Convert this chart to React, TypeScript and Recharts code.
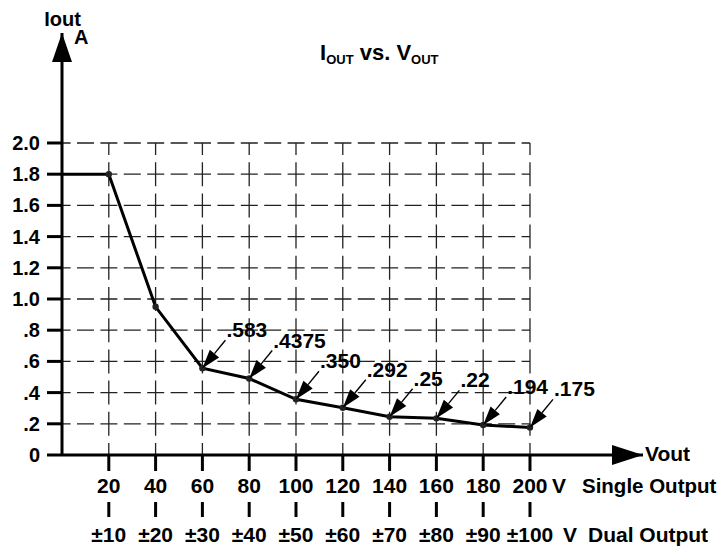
import React from "react";
import { LineChart, Line, XAxis, YAxis, ReferenceLine, ReferenceDot } from "recharts";

// values
const VOUT = [0, 20, 40, 60, 80, 100, 120, 140, 160, 180, 200];
const IOUT = [1.8, 1.8, 0.95, 0.556, 0.49, 0.357, 0.303, 0.245, 0.235, 0.192, 0.177];
const NOTES = ["", "", "", ".583", ".4375", ".350", ".292", ".25", ".22", ".194", ".175"];

const X_TICKS = [20, 40, 60, 80, 100, 120, 140, 160, 180, 200];
const DUAL_LABELS = ["±10", "±20", "±30", "±40", "±50", "±60", "±70", "±80", "±90", "±100"];
const Y_TICKS = [0, 0.2, 0.4, 0.6, 0.8, 1.0, 1.2, 1.4, 1.6, 1.8, 2.0];
const Y_TICK_LABELS = ["0", ".2", ".4", ".6", ".8", "1.0", "1.2", "1.4", "1.6", "1.8", "2.0"];

// axis arrows run past the grid
const X_MAX = 248.3;
const Y_MAX = 2.705;

const data = VOUT.map((v, i) => ({ v, i: IOUT[i], note: NOTES[i] }));

const FONT = "'Liberation Sans', Arial, Helvetica, sans-serif";
const GRID = "#222";
const W = 725;
const H = 548;

const XTick = (props: any) => {
  const { x, y, payload } = props;
  const idx = X_TICKS.indexOf(payload.value);
  const last = idx === X_TICKS.length - 1;
  const txt = { fontFamily: FONT, fontWeight: 700, fontSize: 21, fill: "#000" };
  return (
    <g>
      <text x={x} y={y + 22} textAnchor="middle" {...txt}>{payload.value}</text>
      <line x1={x} x2={x} y1={y + 31} y2={y + 46} stroke="#000" strokeWidth={3} />
      <text x={x} y={y + 71} textAnchor="middle" {...txt}>{DUAL_LABELS[idx]}</text>
      {last && (
        <>
          <text x={x + 22} y={y + 22} {...txt}>V</text>
          <text x={x + 52} y={y + 22} {...txt} fontSize={20.5}>Single Output</text>
          <text x={x + 33} y={y + 71} {...txt}>V</text>
          <text x={x + 58} y={y + 71} {...txt}>Dual Output</text>
        </>
      )}
    </g>
  );
};

const renderDot = (p: any) => {
  const { cx, cy, index } = p;
  if (index === 0) return <g key={`dot-${index}`} />;
  const note = NOTES[index];
  let arrow = null;
  if (note) {
    const tx = cx + 23;
    const ty = cy - 28;
    const dx = cx - tx;
    const dy = cy - ty;
    const len = Math.sqrt(dx * dx + dy * dy);
    const ux = dx / len;
    const uy = dy / len;
    const hl = 19;
    const hw = 6;
    const bx = cx - ux * hl;
    const by = cy - uy * hl;
    const pts = `${cx},${cy} ${bx - uy * hw},${by + ux * hw} ${bx + uy * hw},${by - ux * hw}`;
    arrow = (
      <>
        <line x1={tx} y1={ty} x2={bx} y2={by} stroke="#000" strokeWidth={1.4} />
        <polygon points={pts} fill="#000" />
        <text x={cx + 24} y={cy - 31} fontFamily={FONT} fontWeight={700} fontSize={21} fill="#000">
          {note}
        </text>
      </>
    );
  }
  return (
    <g key={`dot-${index}`}>
      <circle cx={cx} cy={cy} r={3.2} fill="#222" />
      {arrow}
    </g>
  );
};

const upArrow = (p: any) => (
  <polygon points={`${p.cx},${p.cy} ${p.cx - 10},${p.cy + 29} ${p.cx + 10},${p.cy + 29}`} fill="#000" />
);
const rightArrow = (p: any) => (
  <polygon points={`${p.cx},${p.cy} ${p.cx - 31},${p.cy - 10} ${p.cx - 31},${p.cy + 10}`} fill="#000" />
);

export default function App() {
  return (
    <div style={{ position: "relative", width: W, height: H }}>
      <style>{`body{margin:0}.recharts-surface{overflow:visible}`}</style>
      <LineChart width={W} height={H} data={data} margin={{ top: 33, right: 82, bottom: 0, left: 8 }}>
        <XAxis
          dataKey="v"
          type="number"
          domain={[0, X_MAX]}
          ticks={X_TICKS}
          tick={<XTick />}
          tickSize={16}
          tickMargin={0}
          height={93}
          axisLine={{ stroke: "#000", strokeWidth: 3 }}
          tickLine={{ stroke: "#000", strokeWidth: 3 }}
          interval={0}
        />
        <YAxis
          type="number"
          domain={[0, Y_MAX]}
          ticks={Y_TICKS}
          width={54}
          tickSize={15}
          tickMargin={7}
          interval={0}
          tickFormatter={(val: number) => Y_TICK_LABELS[Y_TICKS.indexOf(val)] ?? String(val)}
          tick={{ fontFamily: FONT, fontWeight: 700, fontSize: 20, fill: "#000" }}
          axisLine={{ stroke: "#000", strokeWidth: 3 }}
          tickLine={{ stroke: "#000", strokeWidth: 3 }}
        />
        {Y_TICKS.slice(1).map((y) => (
          <ReferenceLine
            key={`h-${y}`}
            segment={[{ x: 0, y }, { x: 200, y }]}
            stroke={GRID}
            strokeWidth={1.3}
            strokeDasharray="17 6.4"
            strokeDashoffset={-15}
          />
        ))}
        {X_TICKS.map((x) => (
          <ReferenceLine
            key={`v-${x}`}
            segment={[{ x, y: 0 }, { x, y: 2 }]}
            stroke={GRID}
            strokeWidth={1.3}
            strokeDasharray="24 7.2"
            strokeDashoffset={12}
          />
        ))}
        <ReferenceDot x={0} y={Y_MAX} ifOverflow="visible" shape={upArrow} />
        <ReferenceDot x={X_MAX} y={0} ifOverflow="visible" shape={rightArrow} />
        <Line
          type="linear"
          dataKey="i"
          stroke="#000"
          strokeWidth={3}
          dot={renderDot}
          activeDot={false}
          isAnimationActive={false}
        />
      </LineChart>
      <svg
        width={W}
        height={H}
        style={{ position: "absolute", left: 0, top: 0, pointerEvents: "none" }}
        fontFamily={FONT}
        fontWeight={700}
      >
        <text x={62.5} y={26} textAnchor="middle" fontSize={20}>Iout</text>
        <text x={74} y={44} fontSize={20}>A</text>
        <text x={645} y={455} fontSize={21} dominantBaseline="middle">Vout</text>
        <text x={320} y={60} fontSize={22}>
          I<tspan fontSize={13} dy={4}>OUT</tspan>
          <tspan fontSize={22} dy={-4}> vs. V</tspan>
          <tspan fontSize={13} dy={4}>OUT</tspan>
        </text>
      </svg>
    </div>
  );
}
